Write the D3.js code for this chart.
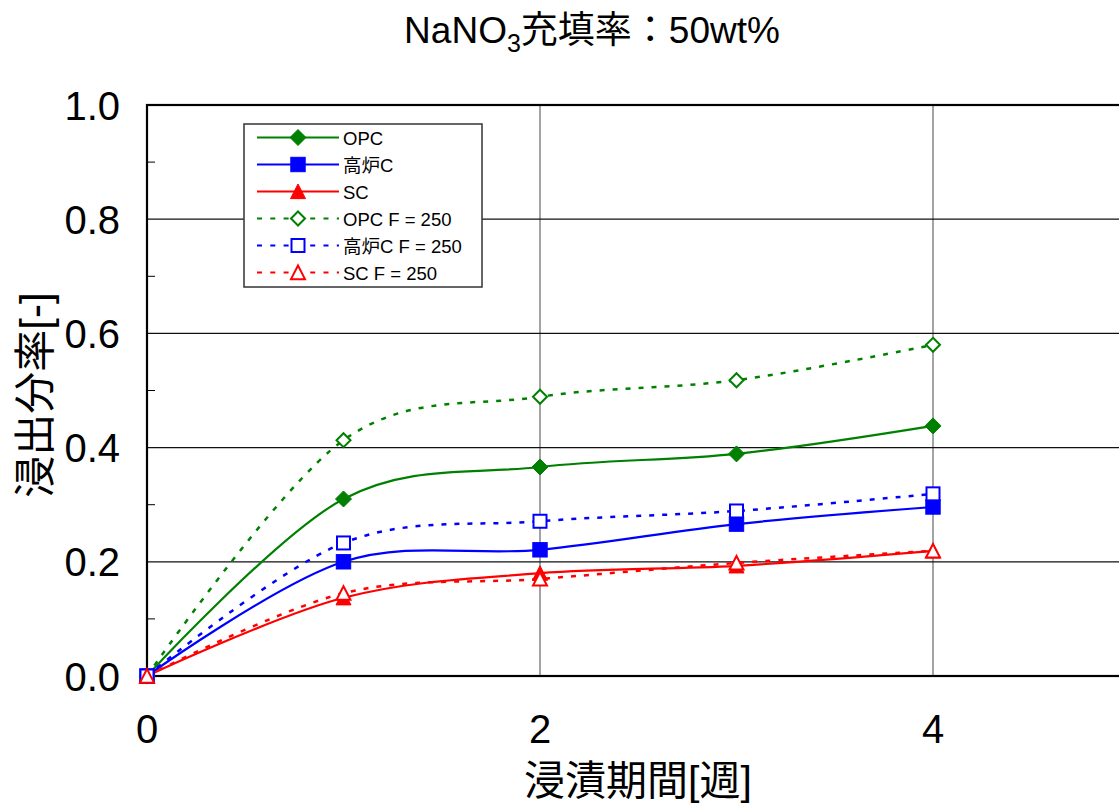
<!DOCTYPE html>
<html>
<head>
<meta charset="utf-8">
<script src="https://cdn.jsdelivr.net/npm/d3@7"></script>
<style>
  html, body { margin: 0; padding: 0; background: #fff; overflow: hidden; }
  svg { display: block; }
  text { font-family: "Liberation Sans", Arial, "Noto Sans CJK JP", sans-serif; fill: #000; }
</style>
</head>
<body>
<svg id="chart" width="1119" height="812"></svg>
<script>
// Immersion period (weeks)
const weeks = [0, 1, 2, 3, 4];

// Leaching fraction per cement type
const opc      = [0, 0.310, 0.366, 0.389, 0.438];
const bfc      = [0, 0.200, 0.221, 0.266, 0.296];
const sc       = [0, 0.137, 0.180, 0.193, 0.219];
const opcF     = [0, 0.413, 0.489, 0.518, 0.580];
const bfcF     = [0, 0.233, 0.271, 0.289, 0.319];
const scF      = [0, 0.145, 0.170, 0.198, 0.219];

const seriesNames = ["OPC", "高炉C", "SC", "OPC F = 250", "高炉C F = 250", "SC F = 250"];
const xTicks = [0, 2, 4];
const yTicks = [0, 0.2, 0.4, 0.6, 0.8, 1.0];
const yMinorTicks = [0.1, 0.3, 0.5, 0.7, 0.9];

const series = [
  { name: seriesNames[0], values: opc,  color: "#008000", shape: "diamond",  filled: true,  dashed: false },
  { name: seriesNames[1], values: bfc,  color: "#0000ff", shape: "square",   filled: true,  dashed: false },
  { name: seriesNames[2], values: sc,   color: "#ff0000", shape: "triangle", filled: true,  dashed: false },
  { name: seriesNames[3], values: opcF, color: "#008000", shape: "diamond",  filled: false, dashed: true },
  { name: seriesNames[4], values: bfcF, color: "#0000ff", shape: "square",   filled: false, dashed: true },
  { name: seriesNames[5], values: scF,  color: "#ff0000", shape: "triangle", filled: false, dashed: true }
];

const svg = d3.select("#chart");
const plotLeft = 147, plotTop = 105, plotBottom = 676;
const x = d3.scaleLinear().domain([0, 5]).range([plotLeft, plotLeft + 5 * 196.5]);
const y = d3.scaleLinear().domain([0, 1]).range([plotBottom, plotTop]);

// vertical grid lines
svg.append("g").selectAll("line").data(xTicks.filter(d => d > 0)).join("line")
  .attr("x1", d => x(d)).attr("x2", d => x(d))
  .attr("y1", y(1)).attr("y2", y(0))
  .attr("stroke", "#666").attr("stroke-width", 1.2);

// horizontal grid lines
svg.append("g").selectAll("line").data(yTicks.filter(d => d > 0 && d < 1)).join("line")
  .attr("x1", x(0)).attr("x2", x(5))
  .attr("y1", d => y(d)).attr("y2", d => y(d))
  .attr("stroke", "#111").attr("stroke-width", 1.2);

// minor y ticks
svg.append("g").selectAll("line").data(yMinorTicks).join("line")
  .attr("x1", x(0)).attr("x2", x(0) + 8)
  .attr("y1", d => y(d)).attr("y2", d => y(d))
  .attr("stroke", "#000").attr("stroke-width", 1);

// plot frame
svg.append("rect")
  .attr("x", x(0)).attr("y", y(1))
  .attr("width", x(5) - x(0)).attr("height", y(0) - y(1))
  .attr("fill", "none").attr("stroke", "#000").attr("stroke-width", 2.2);

// tick labels
svg.append("g").selectAll("text").data(yTicks).join("text")
  .attr("x", 120).attr("y", d => y(d) + 14.5)
  .attr("text-anchor", "end").attr("font-size", 40)
  .text(d => d.toFixed(1));

svg.append("g").selectAll("text").data(xTicks).join("text")
  .attr("x", d => x(d)).attr("y", 743)
  .attr("text-anchor", "middle").attr("font-size", 40)
  .text(d => d);

// axis titles
svg.append("text")
  .attr("x", 638).attr("y", 795)
  .attr("text-anchor", "middle").attr("font-size", 41)
  .attr("font-family", "'Noto Sans CJK JP', sans-serif")
  .text("浸漬期間[週]");

svg.append("text")
  .attr("transform", "translate(50,395) rotate(-90)")
  .attr("text-anchor", "middle").attr("font-size", 42)
  .attr("font-family", "'Noto Sans CJK JP', sans-serif")
  .text("浸出分率[-]");

// chart title
const title = svg.append("text")
  .attr("x", 592).attr("y", 43)
  .attr("text-anchor", "middle").attr("font-size", 37);
title.append("tspan").text("NaNO");
title.append("tspan").attr("font-size", 25).attr("dy", 9).text("3");
title.append("tspan").attr("dy", -9).attr("font-family", "'Noto Sans CJK JP', sans-serif").text("充填率：");
title.append("tspan").text("50wt%");

// markers
function drawMarker(g, s, cx, cy) {
  const fill = s.filled ? s.color : "#fff";
  const sw = s.filled ? 1 : 2;
  if (s.shape === "diamond") {
    const r = s.filled ? 8 : 7;
    g.append("path")
      .attr("d", `M${cx},${cy - r}L${cx + r},${cy}L${cx},${cy + r}L${cx - r},${cy}Z`)
      .attr("fill", fill).attr("stroke", s.color).attr("stroke-width", sw);
  } else if (s.shape === "square") {
    const h = s.filled ? 7.2 : 6.5;
    g.append("rect")
      .attr("x", cx - h).attr("y", cy - h).attr("width", 2 * h).attr("height", 2 * h)
      .attr("fill", fill).attr("stroke", s.color).attr("stroke-width", sw);
  } else {
    const h = s.filled ? 7.5 : 7;
    g.append("path")
      .attr("d", `M${cx},${cy - h}L${cx + h},${cy + h * 0.95}L${cx - h},${cy + h * 0.95}Z`)
      .attr("fill", fill).attr("stroke", s.color).attr("stroke-width", sw);
  }
}

const line = d3.line()
  .x((d, i) => x(weeks[i]))
  .y(d => y(d))
  .curve(d3.curveCardinal.tension(0));

const plot = svg.append("g");
series.forEach(s => {
  plot.append("path")
    .attr("d", line(s.values))
    .attr("fill", "none")
    .attr("stroke", s.color)
    .attr("stroke-width", s.dashed ? 2.5 : 2.2)
    .attr("stroke-dasharray", s.dashed ? "5,8" : null);
});
series.forEach(s => {
  const g = plot.append("g");
  s.values.forEach((v, i) => drawMarker(g, s, x(weeks[i]), y(v)));
});

// legend
const lg = svg.append("g");
lg.append("rect")
  .attr("x", 244).attr("y", 124).attr("width", 238).attr("height", 163)
  .attr("fill", "#fff").attr("stroke", "#333").attr("stroke-width", 1.5);
series.forEach((s, i) => {
  const ly = 137.5 + i * 27;
  lg.append("line")
    .attr("x1", 257).attr("x2", 339).attr("y1", ly).attr("y2", ly)
    .attr("stroke", s.color).attr("stroke-width", 2)
    .attr("stroke-dasharray", s.dashed ? "5,8.3" : null);
  drawMarker(lg, s, 298, ly);
  lg.append("text")
    .attr("x", 343).attr("y", ly + 7)
    .attr("font-size", 18.5)
    .attr("font-family", "Arial, 'Liberation Sans', 'Noto Sans CJK JP', sans-serif")
    .text(s.name);
});
</script>
</body>
</html>
